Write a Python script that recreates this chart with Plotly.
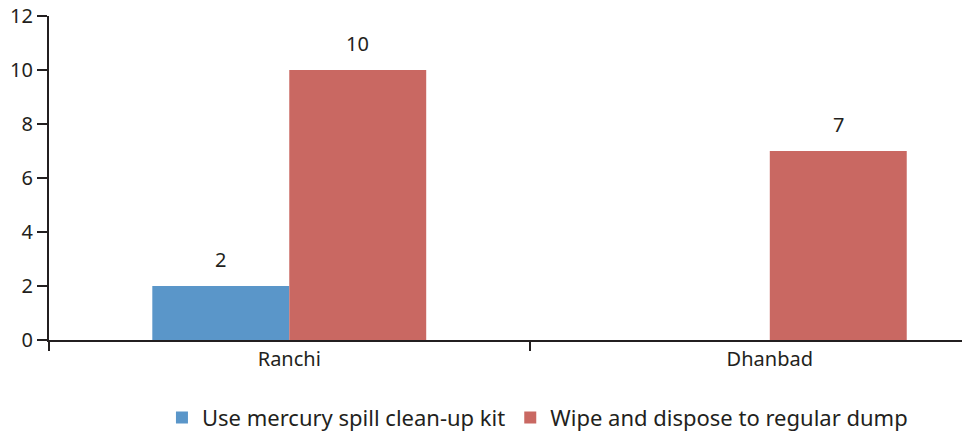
import plotly.graph_objects as go

# data
cities = ["Ranchi", "Dhanbad"]
spill_kit = [2, 0]
wipe_dump = [10, 7]
series_names = ["Use mercury spill clean-up kit", "Wipe and dispose to regular dump"]

BLUE = "#5A96C9"
RED = "#C96862"
INK = "#231F20"
FONT = "Noto Sans"

fig = go.Figure()
fig.add_trace(go.Bar(x=cities, y=spill_kit, name=series_names[0],
                     marker=dict(color=BLUE, line_width=0)))
fig.add_trace(go.Bar(x=cities, y=wipe_dump, name=series_names[1],
                     marker=dict(color=RED, line_width=0)))

bargap = 0.43
half = (1 - bargap) / 4
for offset, vals in [(-half, spill_kit), (half, wipe_dump)]:
    for i, v in enumerate(vals):
        if v:
            fig.add_annotation(x=i + offset, y=v, text=str(v), showarrow=False,
                               yshift=27, font=dict(size=20, color=INK, family=FONT))

fig.update_layout(
    width=962, height=432,
    margin=dict(l=49, r=0, t=16, b=92, autoexpand=False),
    barmode="group", bargap=bargap, bargroupgap=0,
    plot_bgcolor="white", paper_bgcolor="white",
    font=dict(family=FONT, size=20, color=INK),
    showlegend=True,
    legend=dict(orientation="h", x=0.535, xanchor="center", y=-0.175, yanchor="top",
                font=dict(size=22), traceorder="normal"),
)
fig.update_xaxes(range=[-0.5, 1.4], showline=True, linecolor=INK, linewidth=2,
                 ticks="outside", tickson="boundaries", ticklen=9, tickwidth=2,
                 tickcolor=INK, showgrid=False, zeroline=False, automargin=False)
fig.update_yaxes(range=[0, 12], dtick=2, showline=True, linecolor=INK, linewidth=2,
                 ticks="outside", ticklen=10, tickwidth=2, tickcolor=INK,
                 showgrid=False, zeroline=False, automargin=False)

# drop the default page margin so the figure sits at the window corner
fig.write_html("out.html", config={"displayModeBar": False},
               post_script="document.body.style.margin='0';")
